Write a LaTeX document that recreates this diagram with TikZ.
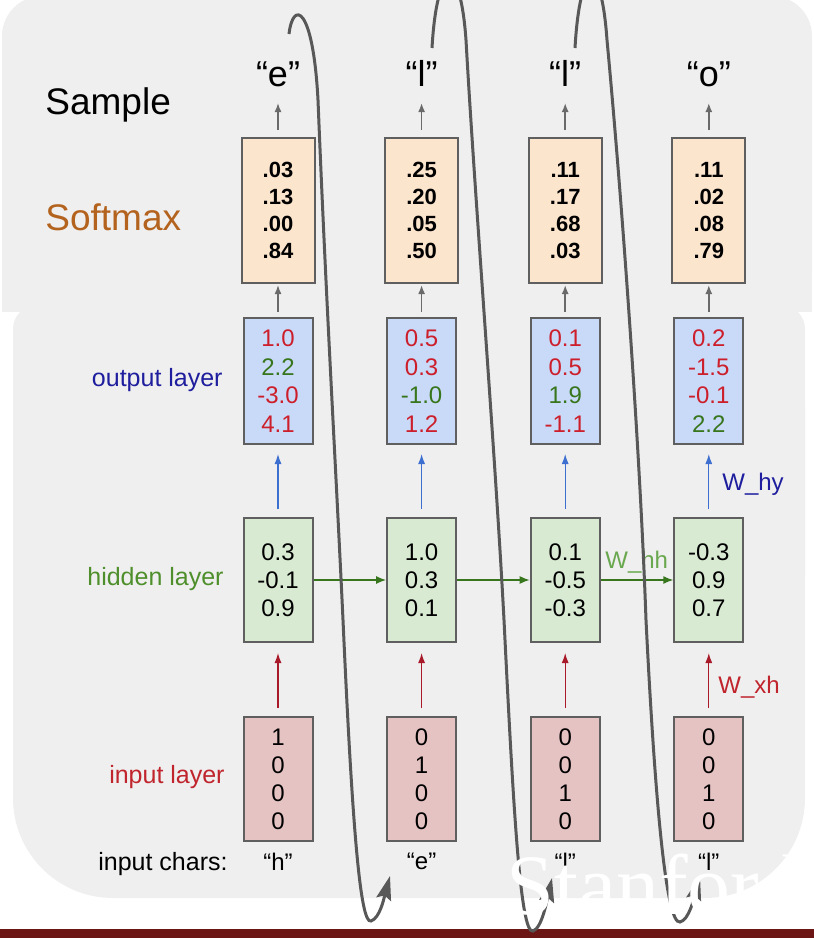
\documentclass[tikz,border=0pt]{standalone}
\usepackage{fontspec}
\setmainfont{Liberation Sans}
\newfontfamily\wmfont{Liberation Serif}
\usepackage{xcolor}
\usepackage{tikz}
\usetikzlibrary{
    arrows.meta,
    positioning
}
\definecolor{panelgray}{HTML}{EFEFEF}
\definecolor{boxline}{HTML}{5F5F5F}
\definecolor{softfill}{HTML}{FCE5CD}
\definecolor{outfill}{HTML}{C9DAF8}
\definecolor{hidfill}{HTML}{D9EAD3}
\definecolor{infill}{HTML}{E6C3C3}
\definecolor{numred}{HTML}{CC1F2B}
\definecolor{numgreen}{HTML}{38761D}
\definecolor{labblue}{HTML}{1E1E9E}
\definecolor{labgreen}{HTML}{4E8F2C}
\definecolor{whhgreen}{HTML}{6AA84F}
\definecolor{labred}{HTML}{C0242C}
\definecolor{softbrown}{HTML}{B4631E}
\definecolor{arrowgray}{HTML}{6A6A6A}
\definecolor{arrowblue}{HTML}{3C6FD0}
\definecolor{arrowred}{HTML}{A8192A}
\definecolor{loopgray}{HTML}{585858}
\definecolor{barred}{HTML}{6B1515}
\newcommand{\redval}[1]{\textcolor{numred}{#1}}
\newcommand{\greenval}[1]{\textcolor{numgreen}{#1}}
\tikzset{
    vecbox/.style={
        draw=boxline,
        line width=1pt,
        inner sep=0pt,
        minimum width=34.5pt,
        minimum height=62pt,
        align=center,
        font=\fontsize{12}{14}\selectfont
    }
}
\tikzset{
    softbox/.style={
        vecbox,
        fill=softfill,
        minimum width=36.5pt,
        minimum height=72.5pt,
        font=\fontsize{11}{13.5}\selectfont\bfseries
    }
}
\tikzset{
    outbox/.style={
        vecbox,
        fill=outfill,
        minimum height=63pt,
        font=\fontsize{12}{14.25}\selectfont
    }
}
\tikzset{
    hidbox/.style={
        vecbox,
        fill=hidfill
    }
}
\tikzset{
    inbox/.style={
        vecbox,
        fill=infill
    }
}
\tikzset{
    sampled/.style={
        inner sep=0pt,
        font=\fontsize{18}{18}\selectfont
    }
}
\tikzset{
    charlabel/.style={
        inner sep=0pt,
        font=\fontsize{12}{12}\selectfont
    }
}
\tikzset{
    rowlabel/.style={
        inner sep=0pt,
        anchor=base east,
        font=\fontsize{12.5}{12.5}\selectfont
    }
}
\tikzset{
    biglabel/.style={
        inner sep=0pt,
        anchor=base west,
        font=\fontsize{18.5}{18.5}\selectfont
    }
}
\tikzset{
    weightlabel/.style={
        inner sep=0pt,
        anchor=base west,
        font=\fontsize{12}{12}\selectfont
    }
}
\tikzset{
    grayflow/.style={
        draw=arrowgray,
        line width=0.8pt,
        -{Latex[length=4.5pt,width=3.5pt]}
    }
}
\tikzset{
    hyflow/.style={
        draw=arrowblue,
        line width=0.6pt,
        -{Latex[length=5pt,width=3.5pt]}
    }
}
\tikzset{
    xhflow/.style={
        draw=arrowred,
        line width=0.6pt,
        -{Latex[length=5pt,width=3.5pt]}
    }
}
\tikzset{
    hhflow/.style={
        draw=numgreen,
        line width=0.7pt,
        -{Latex[length=5pt,width=4pt]}
    }
}
\tikzset{
    loopback/.style={
        draw=loopgray,
        line width=1.5pt,
        -{Stealth[length=12pt,width=7.5pt,inset=2pt]}
    }
}

\begin{document}
\begin{tikzpicture}[
    x=0.5pt,
    y=-0.5pt
]
\useasboundingbox (0,0) rectangle (814,938);
\clip (0,0) rectangle (814,938);

% slide panels
\fill[panelgray, rounded corners=20pt] (2,-4) rectangle (812,312);
\fill[panelgray] (2,150) rectangle (812,312);
\fill[panelgray, rounded corners=50pt] (13,305) rectangle (805,898);
\fill[panelgray, rounded corners=12pt] (13,305) rectangle (805,600);
\fill[barred] (0,929) rectangle (814,938);

% softmax vectors
\node[softbox] (sm1) at (278,210.5) {.03\\.13\\.00\\.84};
\node[softbox, right=34.3pt of sm1] (sm2) {.25\\.20\\.05\\.50};
\node[softbox, right=34.3pt of sm2] (sm3) {.11\\.17\\.68\\.03};
\node[softbox, right=34.3pt of sm3] (sm4) {.11\\.02\\.08\\.79};

% output layer
\node[outbox, below=16.5pt of sm1] (out1)
    {\redval{1.0}\\\greenval{2.2}\\\redval{-3.0}\\\redval{4.1}};
\node[outbox, below=16.5pt of sm2] (out2)
    {\redval{0.5}\\\redval{0.3}\\\greenval{-1.0}\\\redval{1.2}};
\node[outbox, below=16.5pt of sm3] (out3)
    {\redval{0.1}\\\redval{0.5}\\\greenval{1.9}\\\redval{-1.1}};
\node[outbox, below=16.5pt of sm4] (out4)
    {\redval{0.2}\\\redval{-1.5}\\\redval{-0.1}\\\greenval{2.2}};

% hidden layer
\node[hidbox, below=36pt of out1] (hid1) {0.3\\-0.1\\0.9};
\node[hidbox, below=36pt of out2] (hid2) {1.0\\0.3\\0.1};
\node[hidbox, below=36pt of out3] (hid3) {0.1\\-0.5\\-0.3};
\node[hidbox, below=36pt of out4] (hid4) {-0.3\\0.9\\0.7};

% input layer
\node[inbox, below=36.5pt of hid1] (in1) {1\\0\\0\\0};
\node[inbox, below=36.5pt of hid2] (in2) {0\\1\\0\\0};
\node[inbox, below=36.5pt of hid3] (in3) {0\\0\\1\\0};
\node[inbox, below=36.5pt of hid4] (in4) {0\\0\\1\\0};

% sampled and input characters
\node[sampled, above=25pt of sm1] (smp1) {“e”};
\node[sampled, above=25pt of sm2] (smp2) {“l”};
\node[sampled, above=25pt of sm3] (smp3) {“l”};
\node[sampled, above=25pt of sm4] (smp4) {“o”};

\node[charlabel, below=5.5pt of in1] (chr1) {“h”};
\node[charlabel, below=5.5pt of in2] (chr2) {“e”};
\node[charlabel, below=5.5pt of in3] (chr3) {“l”};
\node[charlabel, below=5.5pt of in4] (chr4) {“l”};

% row labels
\node[biglabel] (samplelab) at (45,114) {Sample};
\node[biglabel, text=softbrown] (softlab) at (45,230) {Softmax};
\node[rowlabel, text=labblue] (outlab) at (223,386) {output layer};
\node[rowlabel, text=labgreen] (hidlab) at (224,585) {hidden layer};
\node[rowlabel, text=labred] (inlab) at (225,783) {input layer};
\node[rowlabel] (charlab) at (228,870) {input chars:};

% forward arrows
\draw[grayflow, shorten <=3.5pt, shorten >=8pt] (sm1) -- (smp1);
\draw[grayflow, shorten <=3.5pt, shorten >=8pt] (sm2) -- (smp2);
\draw[grayflow, shorten <=3.5pt, shorten >=8pt] (sm3) -- (smp3);
\draw[grayflow, shorten <=3.5pt, shorten >=8pt] (sm4) -- (smp4);

\draw[grayflow, shorten <=2.5pt, shorten >=0.5pt] (out1) -- (sm1);
\draw[grayflow, shorten <=2.5pt, shorten >=0.5pt] (out2) -- (sm2);
\draw[grayflow, shorten <=2.5pt, shorten >=0.5pt] (out3) -- (sm3);
\draw[grayflow, shorten <=2.5pt, shorten >=0.5pt] (out4) -- (sm4);

\draw[hyflow, shorten <=4pt, shorten >=4.5pt] (hid1) -- (out1);
\draw[hyflow, shorten <=4pt, shorten >=4.5pt] (hid2) -- (out2);
\draw[hyflow, shorten <=4pt, shorten >=4.5pt] (hid3) -- (out3);
\draw[hyflow, shorten <=4pt, shorten >=4.5pt] (hid4) -- (out4);

\draw[xhflow, shorten <=4pt, shorten >=5pt] (in1) -- (hid1);
\draw[xhflow, shorten <=4pt, shorten >=5pt] (in2) -- (hid2);
\draw[xhflow, shorten <=4pt, shorten >=5pt] (in3) -- (hid3);
\draw[xhflow, shorten <=4pt, shorten >=5pt] (in4) -- (hid4);

\draw[hhflow] (hid1) -- (hid2);
\draw[hhflow] (hid2) -- (hid3);
\draw[hhflow] (hid3) -- (hid4);

% weight names
\node[weightlabel, text=labblue] (why) at (722,490) {W\_hy};
\node[weightlabel, text=whhgreen] (whh) at (605,568) {W\_hh};
\node[weightlabel, text=labred] (wxh) at (718,693) {W\_xh};

% sampled char fed back as next input
\coordinate (loop1start) at (289,34);
\coordinate (loop1end) at (390,876);
\coordinate (loop2start) at (432,48);
\coordinate (loop2end) at (552,878);
\coordinate (loop3start) at (575,48);
\coordinate (loop3end) at (700,876);

\draw[loopback] (loop1start)
    .. controls (293,0) and (313,5) .. (318,100)
    .. controls (326,300) and (336,470) .. (343,620)
    .. controls (352,820) and (360,925) .. (371,921)
    .. controls (380,918) and (384,898) .. (loop1end);
\draw[loopback] (loop2start)
    .. controls (437,-40) and (460,-45) .. (466,40)
    .. controls (475,200) and (495,450) .. (504,620)
    .. controls (513,800) and (520,935) .. (533,931)
    .. controls (542,928) and (547,900) .. (loop2end);
\draw[loopback] (loop3start)
    .. controls (580,-40) and (601,-45) .. (607,40)
    .. controls (622,200) and (640,450) .. (646,620)
    .. controls (655,800) and (666,925) .. (680,922)
    .. controls (689,920) and (694,898) .. (loop3end);

% video watermark
\node[anchor=base west, inner sep=0pt, text=white,
    font=\wmfont\fontsize{43}{43}\selectfont] (wmark) at (506,914) {Stanford};

\end{tikzpicture}
\end{document}
